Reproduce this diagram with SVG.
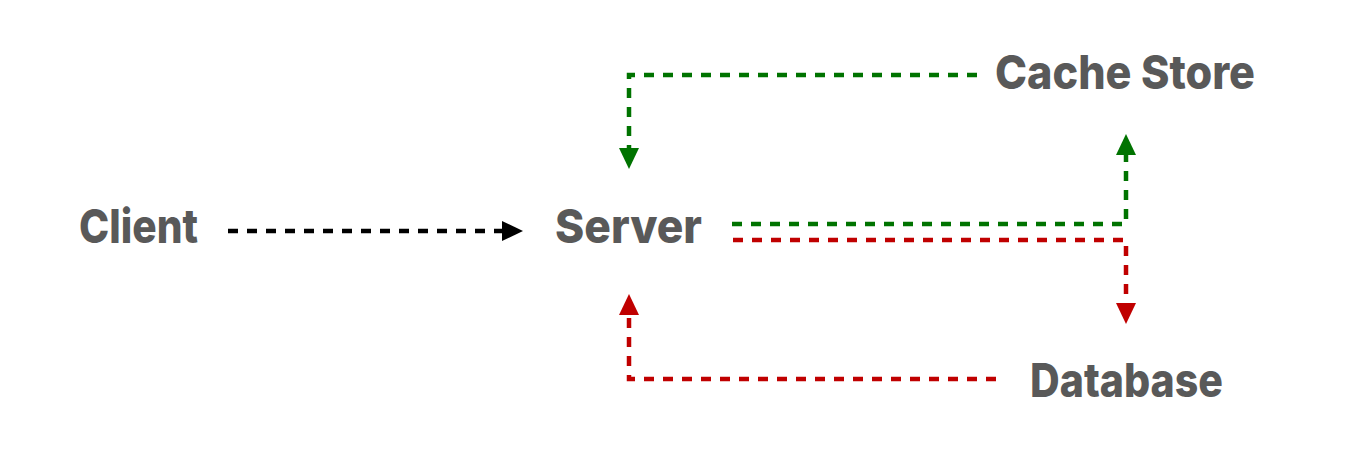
<svg xmlns="http://www.w3.org/2000/svg" width="1360" height="453" viewBox="0 0 1360 453">
  <style>
    .lbl { font-family: Inter, "Noto Sans", "Liberation Sans", sans-serif; font-weight: 800; font-size: 47px; fill: #595959; }
    .edge { fill: none; stroke-width: 4.5; stroke-dasharray: 10 9; }
    .blk { stroke: #000000; }
    .grn { stroke: #007300; }
    .red { stroke: #c00000; }
  </style>
  <defs>
    <marker id="ah-blk" markerUnits="userSpaceOnUse" viewBox="0 0 21 20" markerWidth="21" markerHeight="20" refX="0" refY="10" orient="auto">
      <path d="M0,0 L21,10 L0,20 z" fill="#000000"/>
    </marker>
    <marker id="ah-grn" markerUnits="userSpaceOnUse" viewBox="0 0 21 20" markerWidth="21" markerHeight="20" refX="0" refY="10" orient="auto">
      <path d="M0,0 L21,10 L0,20 z" fill="#007300"/>
    </marker>
    <marker id="ah-red" markerUnits="userSpaceOnUse" viewBox="0 0 21 20" markerWidth="21" markerHeight="20" refX="0" refY="10" orient="auto">
      <path d="M0,0 L21,10 L0,20 z" fill="#c00000"/>
    </marker>
  </defs>

  <g id="connectors">
    <path class="edge blk" d="M228,231 H502" marker-end="url(#ah-blk)"/>
    <path class="edge grn" d="M977,75 H629 V148" marker-end="url(#ah-grn)"/>
    <path class="edge grn" d="M732,224 H1126 V155" marker-end="url(#ah-grn)"/>
    <path class="edge red" d="M733,240 H1126 V303" marker-end="url(#ah-red)"/>
    <path class="edge red" d="M996,379 H629 V315" marker-end="url(#ah-red)"/>
  </g>

  <g id="client">
    <text class="lbl" x="79" y="243" textLength="119" lengthAdjust="spacingAndGlyphs">Client</text>
  </g>
  <g id="server">
    <text class="lbl" x="555" y="243" textLength="147" lengthAdjust="spacingAndGlyphs">Server</text>
  </g>
  <g id="cache-store">
    <text class="lbl" x="995" y="89" textLength="260" lengthAdjust="spacingAndGlyphs">Cache Store</text>
  </g>
  <g id="database">
    <text class="lbl" x="1030" y="397" textLength="193" lengthAdjust="spacingAndGlyphs">Database</text>
  </g>
</svg>
